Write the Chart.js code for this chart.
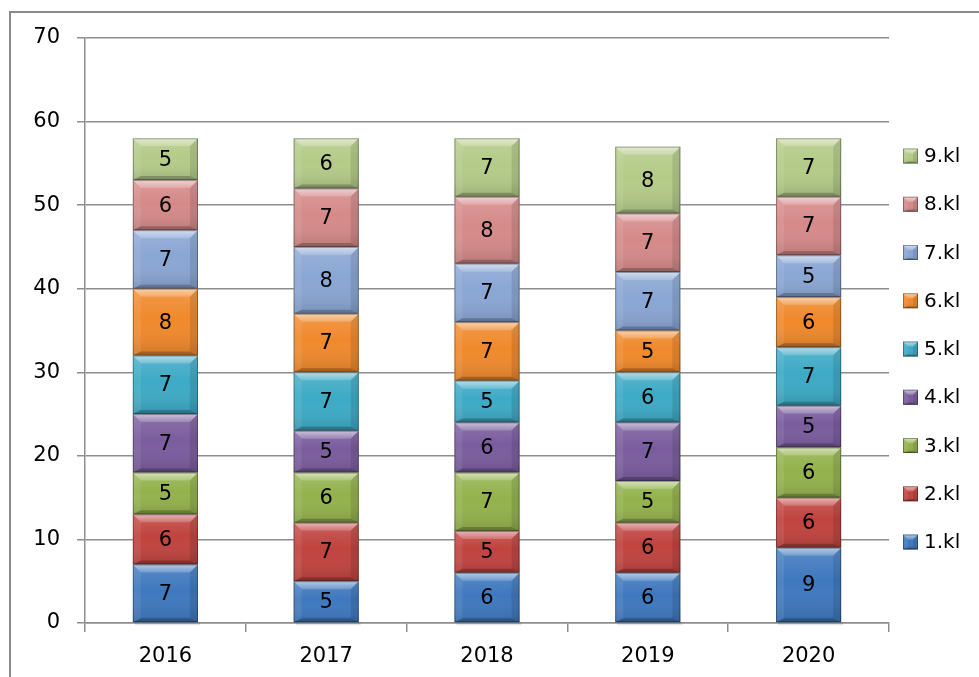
<!DOCTYPE html>
<html><head><meta charset="utf-8">
<script src="https://cdn.jsdelivr.net/npm/chart.js@4.4.0/dist/chart.umd.min.js"></script>
<style>html,body{margin:0;padding:0;background:#fff;} #wrap{position:relative;width:979px;height:677px;}</style>
</head><body><div id="wrap"><canvas id="c" width="979" height="677"></canvas></div>
<script>
const categories = ['2016', '2017', '2018', '2019', '2020'];
const seriesLabels = ['1.kl', '2.kl', '3.kl', '4.kl', '5.kl', '6.kl', '7.kl', '8.kl', '9.kl'];
const kl1 = [7, 5, 6, 6, 9];
const kl2 = [6, 7, 5, 6, 6];
const kl3 = [5, 6, 7, 5, 6];
const kl4 = [7, 5, 6, 7, 5];
const kl5 = [7, 7, 5, 6, 7];
const kl6 = [8, 7, 7, 5, 6];
const kl7 = [7, 8, 7, 7, 5];
const kl8 = [6, 7, 8, 7, 7];
const kl9 = [5, 6, 7, 8, 7];
const seriesValues = [kl1, kl2, kl3, kl4, kl5, kl6, kl7, kl8, kl9];
const yMin = 0, yMax = 70, yStep = 10;
const seriesColors = ['#3E78BE', '#C0433F', '#93B24C', '#7A5C9E', '#3DAAC6', '#F0892C', '#8AA6D4', '#D58A89', '#B4CB88'];

const FONT = 'DejaVu Sans';
const GRID = '#8e8e8e';

function bevel(ctx, l, t, r, bot, bt, bs, bb) {
  const h = bot - t;
  bt = Math.min(bt, h * 0.45);
  bb = Math.min(bb, h * 0.3);
  const g = ctx.createLinearGradient(0, t, 0, bot);
  g.addColorStop(0, 'rgba(255,255,255,0.14)');
  g.addColorStop(0.45, 'rgba(255,255,255,0.0)');
  g.addColorStop(1, 'rgba(0,0,0,0.13)');
  ctx.fillStyle = g;
  ctx.fillRect(l, t, r - l, h);
  const poly = (pts, fill) => {
    ctx.beginPath();
    ctx.moveTo(pts[0][0], pts[0][1]);
    for (let i = 1; i < pts.length; i++) ctx.lineTo(pts[i][0], pts[i][1]);
    ctx.closePath();
    ctx.fillStyle = fill;
    ctx.fill();
  };
  const tg = ctx.createLinearGradient(0, t, 0, t + bt);
  tg.addColorStop(0, 'rgba(255,255,255,0.55)');
  tg.addColorStop(1, 'rgba(255,255,255,0.18)');
  poly([[l, t], [r, t], [r - bs, t + bt], [l + bs, t + bt]], tg);
  poly([[l, bot], [r, bot], [r - bs, bot - bb], [l + bs, bot - bb]], 'rgba(0,0,0,0.22)');
  poly([[l, t], [l + bs, t + bt], [l + bs, bot - bb], [l, bot]], 'rgba(255,255,255,0.08)');
  poly([[r, t], [r - bs, t + bt], [r - bs, bot - bb], [r, bot]], 'rgba(0,0,0,0.10)');
  ctx.strokeStyle = 'rgba(0,0,0,0.32)';
  ctx.lineWidth = 1;
  ctx.strokeRect(l + 0.5, t + 0.5, r - l - 1, h - 1);
}

const framePlugin = {
  id: 'frame',
  beforeDraw(chart) {
    const ctx = chart.ctx;
    ctx.save();
    ctx.fillStyle = '#fff';
    ctx.fillRect(0, 0, chart.width, chart.height);
    ctx.strokeStyle = '#8a8a8a';
    ctx.lineWidth = 2;
    ctx.strokeRect(10, 12, 1100, 1100);
    ctx.restore();
  }
};

const bevelPlugin = {
  id: 'bevelBars',
  beforeDatasetsDraw(chart) {
    const ctx = chart.ctx;
    ctx.save();
    const first = chart.getDatasetMeta(0);
    first.data.forEach((el) => {
      const p = el.getProps(['x', 'width', 'base'], true);
      ctx.fillStyle = 'rgba(0,0,0,0.10)';
      ctx.fillRect(p.x - p.width / 2 + 2, p.base, p.width, 3);
    });
    ctx.restore();
  },
  afterDatasetsDraw(chart) {
    const ctx = chart.ctx;
    ctx.save();
    chart.data.datasets.forEach((ds, di) => {
      const meta = chart.getDatasetMeta(di);
      meta.data.forEach((el, i) => {
        const p = el.getProps(['x', 'y', 'base', 'width'], true);
        const l = p.x - p.width / 2, r = p.x + p.width / 2;
        const t = Math.min(p.y, p.base), bot = Math.max(p.y, p.base);
        bevel(ctx, l, t, r, bot, 8, 8, 4);
        ctx.fillStyle = '#000';
        ctx.font = '21px "' + FONT + '"';
        ctx.textAlign = 'center';
        ctx.textBaseline = 'middle';
        ctx.fillText(String(ds.data[i]), p.x, (t + bot) / 2 + 1);
      });
    });
    ctx.restore();
  }
};

const legendPlugin = {
  id: 'customLegend',
  afterDraw(chart) {
    const ctx = chart.ctx;
    ctx.save();
    const n = chart.data.datasets.length;
    const x0 = 903, y0 = 156, dy = 48.25, s = 15;
    for (let k = 0; k < n; k++) {
      const di = n - 1 - k;
      const ds = chart.data.datasets[di];
      const cy = y0 + k * dy;
      ctx.fillStyle = ds.backgroundColor;
      ctx.fillRect(x0, cy - s / 2, s, s);
      bevel(ctx, x0, cy - s / 2, x0 + s, cy + s / 2, 5, 5, 2);
      ctx.fillStyle = '#000';
      ctx.font = '20px "' + FONT + '"';
      ctx.textAlign = 'left';
      ctx.textBaseline = 'middle';
      ctx.fillText(ds.label, 924, cy + 1);
    }
    ctx.restore();
  }
};

const datasets = seriesLabels.map((lab, i) => ({
  label: lab,
  data: seriesValues[i],
  backgroundColor: seriesColors[i],
  borderWidth: 0,
  categoryPercentage: 1.0,
  barPercentage: 0.405
}));

new Chart(document.getElementById('c'), {
  type: 'bar',
  data: { labels: categories, datasets },
  plugins: [framePlugin, bevelPlugin, legendPlugin],
  options: {
    responsive: false,
    animation: false,
    devicePixelRatio: 1,
    layout: { padding: { top: 38, right: 90, bottom: 0, left: 0 } },
    plugins: { legend: { display: false }, tooltip: { enabled: false } },
    scales: {
      x: {
        stacked: true,
        afterFit(scale) { scale.height = 54; },
        grid: { offset: true, drawOnChartArea: false, drawTicks: true, tickLength: 9, color: GRID, lineWidth: 1.5 },
        border: { display: true, color: GRID, width: 1.5 },
        ticks: { color: '#000', font: { family: FONT, size: 21 }, padding: 12 }
      },
      y: {
        stacked: true,
        min: yMin, max: yMax,
        afterFit(scale) { scale.width = 85; },
        grid: { color: GRID, lineWidth: 1.5, tickLength: 8 },
        border: { display: true, color: GRID, width: 1.5 },
        ticks: { stepSize: yStep, color: '#000', font: { family: FONT, size: 21 }, padding: 17 }
      }
    }
  }
});
</script>
</body></html>
